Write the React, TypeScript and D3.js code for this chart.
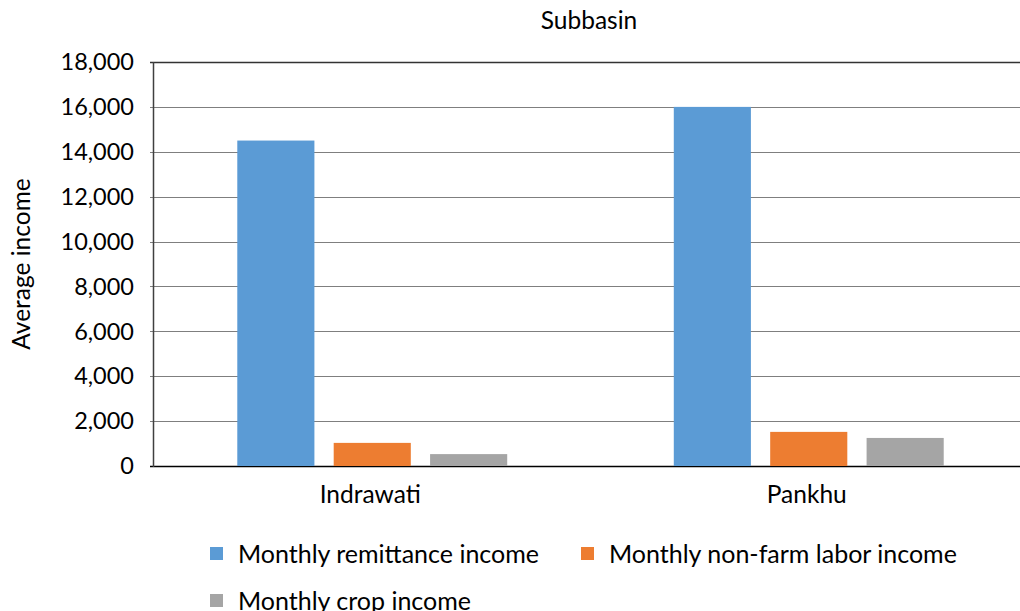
import React from "react";
import * as d3 from "d3";

const categories = ["Indrawati", "Pankhu"];
const seriesNames = [
  "Monthly remittance income",
  "Monthly non-farm labor income",
  "Monthly crop income",
];
const remittance = [14500, 16000];
const nonFarm = [1030, 1520];
const crop = [530, 1250];
const seriesColors = ["#5B9BD5", "#ED7D31", "#A5A5A5"];
const yTicks = [0, 2000, 4000, 6000, 8000, 10000, 12000, 14000, 16000, 18000];

const W = 1020;
const H = 611;
const FONT = "Lato, 'Open Sans', sans-serif";

export default function App() {
  const seriesValues = [remittance, nonFarm, crop];
  const left = 154;
  const right = 1027;
  const top = 62;
  const bottom = 466;

  const x0 = d3.scaleBand<string>().domain(categories).range([left, right]).padding(0);
  const x1 = d3
    .scaleBand<string>()
    .domain(seriesNames)
    .range([0, x0.bandwidth()])
    .paddingInner(0.2)
    .paddingOuter(0.864);
  const y = d3.scaleLinear().domain([0, 18000]).range([bottom, top]);
  const fmt = d3.format(",");

  const legendItems = [
    { name: seriesNames[0], color: seriesColors[0], x: 210, y: 554 },
    { name: seriesNames[1], color: seriesColors[1], x: 581, y: 554 },
    { name: seriesNames[2], color: seriesColors[2], x: 210, y: 601 },
  ];

  return (
    <svg
      width={W}
      height={H}
      style={{ position: "absolute", left: 0, top: 0, display: "block", background: "#fff" }}
      fontFamily={FONT}
    >
      <rect x={0} y={0} width={W} height={H} fill="#fff" />
      <text x={589} y={29} textAnchor="middle" fontSize={24.5} fill="#000">
        Subbasin
      </text>
      {/* gridlines */}
      {yTicks.map((t) => (
        <line
          key={"g" + t}
          x1={left - 4}
          x2={right}
          y1={Math.round(y(t)) + 0.5}
          y2={Math.round(y(t)) + 0.5}
          stroke={t === 0 ? "#000" : t === 18000 ? "#333" : "#7f7f7f"}
          strokeWidth={t === 0 || t === 18000 ? 1.5 : 1}
        />
      ))}
      <line x1={153.5} x2={153.5} y1={top} y2={bottom + 1} stroke="#404040" strokeWidth={1.5} />
      {/* y tick labels */}
      {yTicks.map((t) => (
        <text
          key={"t" + t}
          x={134}
          y={y(t)}
          dy="0.35em"
          textAnchor="end"
          fontSize={23.5}
          fill="#000"
        >
          {fmt(t)}
        </text>
      ))}
      <text
        transform={`translate(30,${(top + bottom) / 2}) rotate(-90)`}
        textAnchor="middle"
        fontSize={24.5}
        fill="#000"
      >
        Average income
      </text>
      {/* bars */}
      {categories.map((c, ci) =>
        seriesNames.map((s, si) => {
          const v = seriesValues[si][ci];
          return (
            <rect
              key={c + s}
              x={(x0(c) as number) + (x1(s) as number)}
              y={y(v)}
              width={x1.bandwidth()}
              height={bottom - y(v)}
              fill={seriesColors[si]}
            />
          );
        })
      )}
      {/* x labels */}
      {categories.map((c) => (
        <text
          key={"x" + c}
          x={(x0(c) as number) + x0.bandwidth() / 2 - 2}
          y={503}
          textAnchor="middle"
          fontSize={24.5}
          fill="#000"
        >
          {c}
        </text>
      ))}
      {/* legend */}
      {legendItems.map((l) => (
        <g key={l.name}>
          <rect x={l.x} y={l.y - 7} width={13} height={13} fill={l.color} />
          <text x={l.x + 28} y={l.y} dy="0.35em" fontSize={25} fill="#000">
            {l.name}
          </text>
        </g>
      ))}
    </svg>
  );
}
